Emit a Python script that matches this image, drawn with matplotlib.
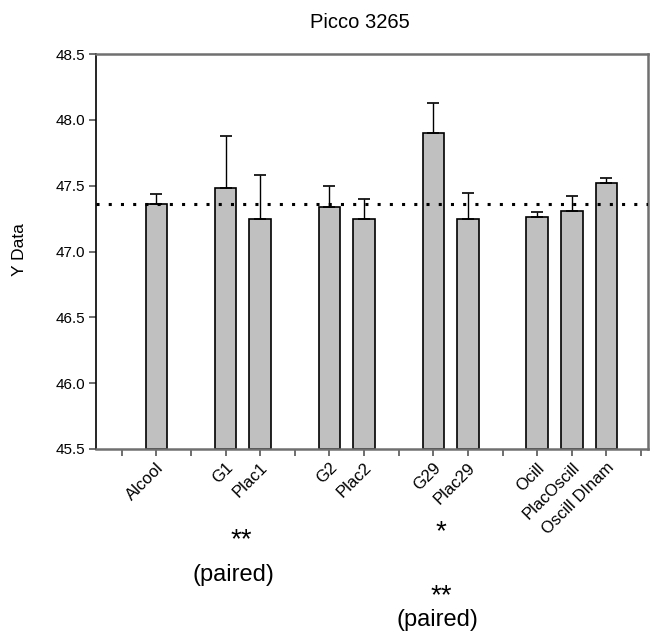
import matplotlib
matplotlib.use("Agg")
import matplotlib.pyplot as plt
import numpy as np

plt.rcParams['font.family'] = ['Liberation Sans', 'DejaVu Sans']

categories = ["Alcool", "G1", "Plac1", "G2", "Plac2", "G29", "Plac29",
              "Ocill", "PlacOscill", "Oscill DInam"]
slots = [1, 3, 4, 6, 7, 9, 10, 12, 13, 14]
means = [47.36, 47.48, 47.25, 47.34, 47.25, 47.90, 47.25, 47.26, 47.31, 47.52]
errors = [0.08, 0.40, 0.33, 0.16, 0.15, 0.23, 0.195, 0.04, 0.11, 0.035]
reference_line = 47.362
yticks = [45.5, 46.0, 46.5, 47.0, 47.5, 48.0, 48.5]

W, H = 665, 636
fig = plt.figure(figsize=(W / 100, H / 100), dpi=100)
L, R, T, B = 96, 648, 54, 449
ax = fig.add_axes([L / W, (H - B) / H, (R - L) / W, (B - T) / H])

ax.bar(slots, [m - 45.5 for m in means], bottom=45.5, width=0.62,
       color='#c0c0c0', edgecolor='black', linewidth=1.2, zorder=2)
ax.errorbar(slots, means, yerr=[np.zeros(len(errors)), errors], fmt='none',
            ecolor='black', elinewidth=1.0, capsize=4.5, capthick=1.2, zorder=3)
ax.axhline(reference_line, color='black', linestyle=(0, (1, 3)), linewidth=2.2, zorder=4)

ax.set_xlim(-0.74, 15.2)
ax.set_ylim(45.5, 48.5)
ax.set_yticks(yticks)
ax.set_yticklabels([f"{v:.1f}" for v in yticks], fontsize=11)
ax.set_xticks(range(0, 16))
labels = [""] * 16
for s, c in zip(slots, categories):
    labels[s] = c
ax.set_xticklabels(labels, rotation=45, ha='right', va='top',
                   rotation_mode='anchor', fontsize=12)
ax.tick_params(axis='x', length=5, color='#555555', width=1.2, pad=3)
ax.tick_params(axis='y', length=5, color='#555555', width=1.2, pad=3)

ax.spines['left'].set_color('black')
ax.spines['left'].set_linewidth(1.2)
for s in ['top', 'right', 'bottom']:
    ax.spines[s].set_color('#707070')
    ax.spines[s].set_linewidth(1.8)

def ftext(x, y, s, **kw):
    fig.text(x / W, 1 - y / H, s, ha='center', va='center', **kw)

ftext(20, 250, "Y Data", fontsize=12.5, rotation=90)
ftext(360, 22, "Picco 3265", fontsize=14.5)

ftext(241, 540, "**", fontsize=20)
ftext(233, 575, "(paired)", fontsize=17)
ftext(441, 532, "*", fontsize=20)
ftext(441, 596, "**", fontsize=20)
ftext(437, 620, "(paired)", fontsize=17)

fig.savefig("out.png", dpi=100)
